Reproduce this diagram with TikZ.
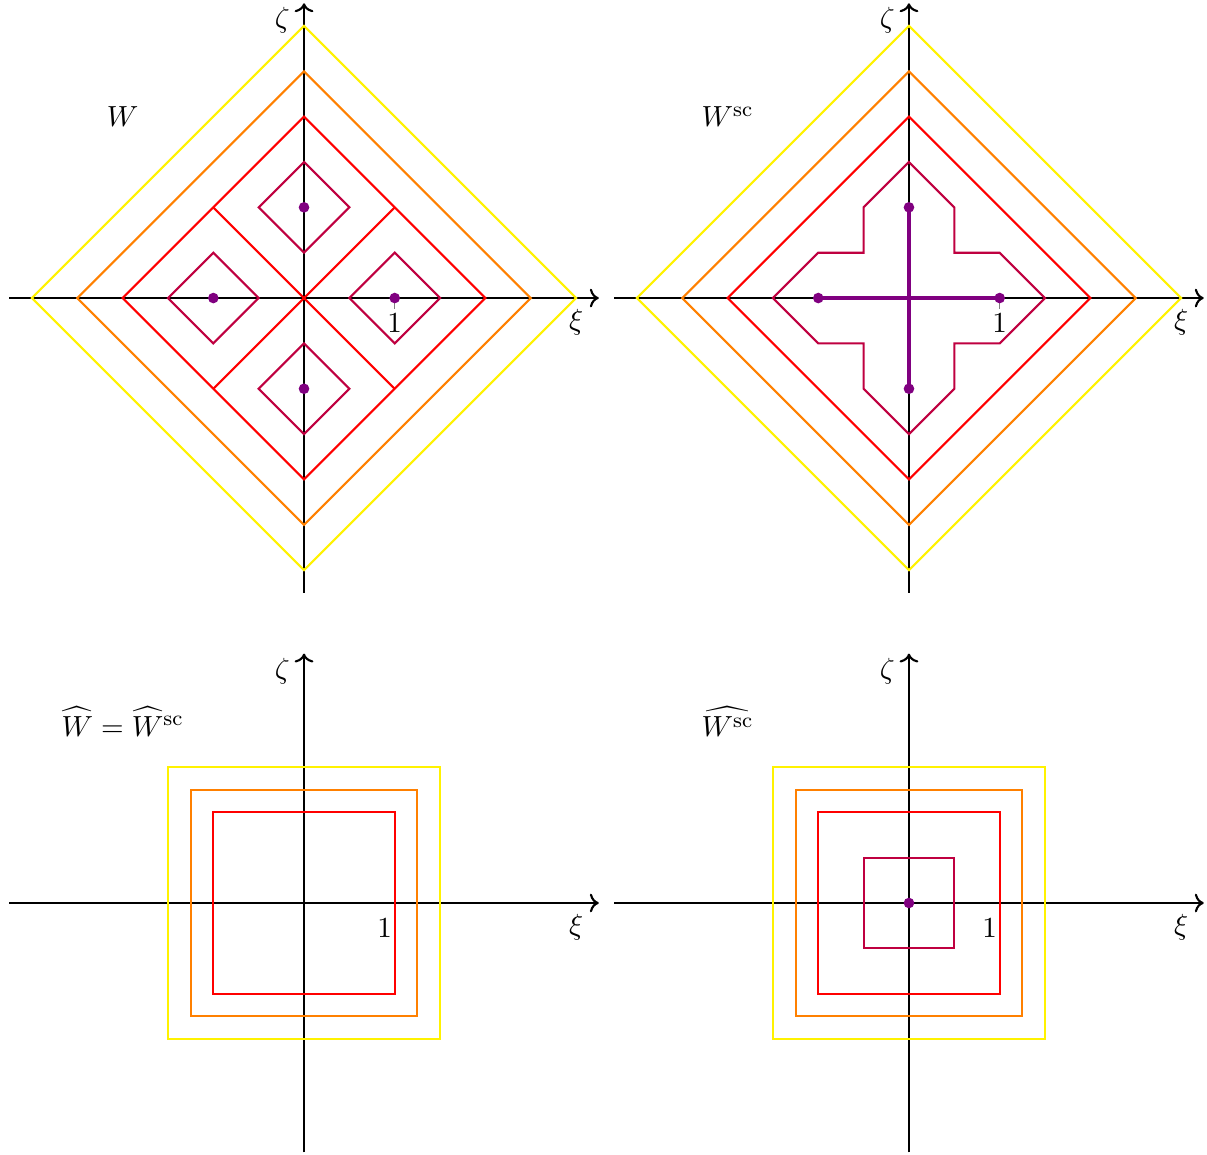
\documentclass[tikz,border=0pt]{standalone}
\usepackage{amsmath,amssymb}
\usepackage{xcolor}
\usepackage{tikz}
\usetikzlibrary{arrows.meta}

\begin{document}
\begin{tikzpicture}[
    x=1.2cm, y=1.2cm,
    every node/.style={font=\fontsize{10.95}{13.6}\selectfont},
    axis/.style={thick, ->},
    level/.style={thick},
    spine/.style={violet, line width=1.6pt},
    dot/.style={violet},
    tickmark/.style={gray, thin}
]
\useasboundingbox (-3.352,3.286) rectangle (9.956,-9.448);

% W
\begin{scope}
\draw[axis] (-3.25,0) -- (3.25,0);
\draw[axis] (0,-3.25) -- (0,3.25);
\node (xiA) at (3,-0.27) {$\xi$};
\node (zetaA) at (-0.24,3.06) {$\zeta$};
\node (nameA) at (-2,2) {$W$};
\draw[level, yellow] (3,0) -- (0,3) -- (-3,0) -- (0,-3) -- cycle;
\draw[level, orange] (2.5,0) -- (0,2.5) -- (-2.5,0) -- (0,-2.5) -- cycle;
\draw[level, red] (2,0) -- (0,2) -- (-2,0) -- (0,-2) -- cycle;
\draw[level, red] (-1,1) -- (1,-1);
\draw[level, red] (1,1) -- (-1,-1);
\draw[level, purple] (1.5,0) -- (1,0.5) -- (0.5,0) -- (1,-0.5) -- cycle;
\draw[level, purple] (-0.5,0) -- (-1,0.5) -- (-1.5,0) -- (-1,-0.5) -- cycle;
\draw[level, purple] (0.5,1) -- (0,1.5) -- (-0.5,1) -- (0,0.5) -- cycle;
\draw[level, purple] (0.5,-1) -- (0,-0.5) -- (-0.5,-1) -- (0,-1.5) -- cycle;
\draw[tickmark] (1,0) -- (1,-0.12);
\node (oneA) at (1,-0.27) {1};
\fill[dot] (1,0) circle (2pt);
\fill[dot] (-1,0) circle (2pt);
\fill[dot] (0,1) circle (2pt);
\fill[dot] (0,-1) circle (2pt);
\end{scope}

% W^sc
\begin{scope}[shift={(6.67,0)}]
\draw[axis] (-3.25,0) -- (3.25,0);
\draw[axis] (0,-3.25) -- (0,3.25);
\node (xiB) at (3,-0.27) {$\xi$};
\node (zetaB) at (-0.24,3.06) {$\zeta$};
\node (nameB) at (-2,2) {$W^{\mathrm{sc}}$};
\draw[level, yellow] (3,0) -- (0,3) -- (-3,0) -- (0,-3) -- cycle;
\draw[level, orange] (2.5,0) -- (0,2.5) -- (-2.5,0) -- (0,-2.5) -- cycle;
\draw[level, red] (2,0) -- (0,2) -- (-2,0) -- (0,-2) -- cycle;
\draw[level, purple] (0,1.5) -- (0.5,1) -- (0.5,0.5) -- (1,0.5) -- (1.5,0)
    -- (1,-0.5) -- (0.5,-0.5) -- (0.5,-1) -- (0,-1.5) -- (-0.5,-1)
    -- (-0.5,-0.5) -- (-1,-0.5) -- (-1.5,0) -- (-1,0.5) -- (-0.5,0.5)
    -- (-0.5,1) -- cycle;
\draw[tickmark] (1,0) -- (1,-0.12);
\node (oneB) at (1,-0.27) {1};
\draw[spine] (-1,0) -- (1,0);
\draw[spine] (0,-1) -- (0,1);
\fill[dot] (1,0) circle (2pt);
\fill[dot] (-1,0) circle (2pt);
\fill[dot] (0,1) circle (2pt);
\fill[dot] (0,-1) circle (2pt);
\end{scope}

% widehat W
\begin{scope}[shift={(0,-6.67)}]
\draw[axis] (-3.25,0) -- (3.25,0);
\draw[axis] (0,-2.75) -- (0,2.75);
\node (xiC) at (3,-0.27) {$\xi$};
\node (zetaC) at (-0.24,2.56) {$\zeta$};
\node (nameC) at (-2,2) {$\widehat{W}=\widehat{W}^{\mathrm{sc}}$};
\draw[level, yellow] (-1.5,-1.5) rectangle (1.5,1.5);
\draw[level, orange] (-1.25,-1.25) rectangle (1.25,1.25);
\draw[level, red] (-1,-1) rectangle (1,1);
\node (oneC) at (0.89,-0.27) {1};
\end{scope}

% widehat W^sc
\begin{scope}[shift={(6.67,-6.67)}]
\draw[axis] (-3.25,0) -- (3.25,0);
\draw[axis] (0,-2.75) -- (0,2.75);
\node (xiD) at (3,-0.27) {$\xi$};
\node (zetaD) at (-0.24,2.56) {$\zeta$};
\node (nameD) at (-2,2) {$\widehat{W^{\mathrm{sc}}}$};
\draw[level, yellow] (-1.5,-1.5) rectangle (1.5,1.5);
\draw[level, orange] (-1.25,-1.25) rectangle (1.25,1.25);
\draw[level, red] (-1,-1) rectangle (1,1);
\draw[level, purple] (-0.5,-0.5) rectangle (0.5,0.5);
\node (oneD) at (0.89,-0.27) {1};
\fill[dot] (0,0) circle (2pt);
\end{scope}
\end{tikzpicture}
\end{document}
